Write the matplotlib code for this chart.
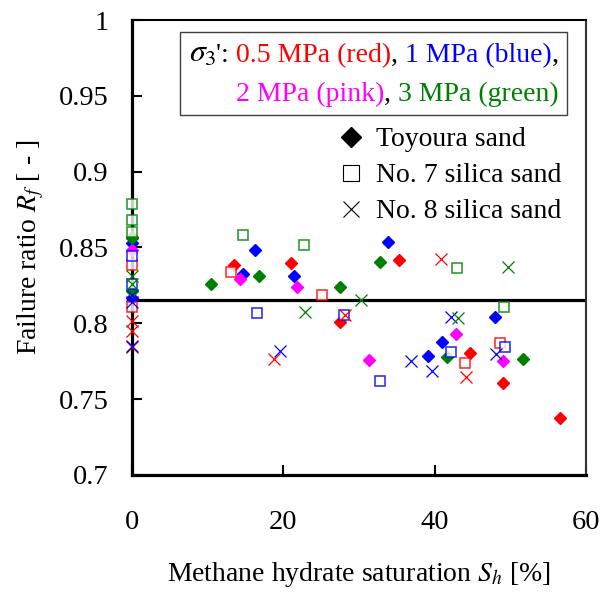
import matplotlib
matplotlib.use('Agg')
import matplotlib.pyplot as plt
from matplotlib.lines import Line2D
from matplotlib.ticker import FuncFormatter
from matplotlib.offsetbox import TextArea, HPacker, VPacker, AnchoredOffsetbox

plt.rcParams['font.family'] = ['Liberation Serif', 'DejaVu Serif']
plt.rcParams['mathtext.fontset'] = 'stix'

# ---- data: (Sh [%], Rf [-]) ----
# Toyoura sand (filled diamonds)
toy_red_x = [0, 13.5, 21.0, 27.5, 35.3, 44.6, 49.0, 56.5]
toy_red_y = [0.857, 0.8385, 0.8396, 0.8005, 0.8418, 0.7803, 0.7605, 0.7374]
toy_blue_x = [0, 0, 14.7, 16.2, 21.4, 33.8, 39.1, 41.0, 48.0]
toy_blue_y = [0.853, 0.8165, 0.8326, 0.848, 0.8312, 0.8539, 0.7785, 0.7873, 0.804]
toy_pink_x = [0, 14.3, 21.8, 31.3, 42.8, 49.0]
toy_pink_y = [0.848, 0.829, 0.8238, 0.7759, 0.7928, 0.7754]
toy_green_x = [0, 0, 10.4, 16.8, 27.5, 32.8, 41.6, 51.6]
toy_green_y = [0.856, 0.821, 0.826, 0.831, 0.8236, 0.8407, 0.778, 0.7765]

# No. 7 silica sand (open squares)
s7_red_x = [0, 0, 13.1, 25.1, 44.0, 48.6]
s7_red_y = [0.8385, 0.811, 0.834, 0.8183, 0.7737, 0.7869]
s7_blue_x = [0, 0, 16.5, 28.0, 32.8, 42.1, 49.3]
s7_blue_y = [0.8444, 0.8258, 0.8067, 0.8055, 0.7616, 0.7807, 0.7846]
s7_green_x = [0, 0, 0, 14.7, 22.7, 43.0, 49.2]
s7_green_y = [0.8785, 0.868, 0.860, 0.858, 0.8517, 0.8367, 0.8106]

# No. 8 silica sand (crosses)
s8_red_x = [0, 0, 0, 18.8, 28.1, 40.8, 44.1]
s8_red_y = [0.8016, 0.795, 0.784, 0.7765, 0.8055, 0.8422, 0.7645]
s8_blue_x = [0, 0, 0, 19.5, 36.9, 39.7, 42.2, 48.1]
s8_blue_y = [0.8187, 0.814, 0.7847, 0.782, 0.7752, 0.7688, 0.804, 0.7796]
s8_green_x = [0, 0, 22.9, 30.3, 43.1, 49.7]
s8_green_y = [0.831, 0.826, 0.8077, 0.8154, 0.8034, 0.837]

mean_rf = 0.8155

RED, BLUE, PINK, GREEN = '#FF0000', '#0000FF', '#FF00FF', '#008000'

fig = plt.figure(figsize=(6.03, 5.92), dpi=100)
ax = fig.add_axes([0.219, 0.198, 0.753, 0.768])

ax.axhline(mean_rf, color='black', lw=2.3, zorder=1.5)

# diamonds
for xs, ys, c in [(toy_red_x, toy_red_y, RED), (toy_blue_x, toy_blue_y, BLUE),
                  (toy_pink_x, toy_pink_y, PINK), (toy_green_x, toy_green_y, GREEN)]:
    ax.plot(xs, ys, ls='none', marker='D', ms=6.4, color=c, mec=c, clip_on=False, zorder=3)
# squares
for xs, ys, c in [(s7_red_x, s7_red_y, RED), (s7_blue_x, s7_blue_y, BLUE),
                  (s7_green_x, s7_green_y, GREEN)]:
    ax.plot(xs, ys, ls='none', marker='s', ms=7.8, mfc='white', mec=c, mew=1.2,
            alpha=0.8, clip_on=False, zorder=4)
# crosses
for xs, ys, c in [(s8_red_x, s8_red_y, RED), (s8_blue_x, s8_blue_y, BLUE),
                  (s8_green_x, s8_green_y, GREEN)]:
    ax.plot(xs, ys, ls='none', marker='x', ms=9.2, color=c, mew=0.9,
            clip_on=False, zorder=5)

ax.set_xlim(0, 60)
ax.set_ylim(0.7, 1.0)
ax.set_xticks([0, 20, 40, 60])
ax.set_yticks([0.7, 0.75, 0.8, 0.85, 0.9, 0.95, 1.0])
ax.yaxis.set_major_formatter(FuncFormatter(lambda v, p: f'{v:g}'))
ax.tick_params(direction='in', length=7, width=1.5, labelsize=20.5)
ax.tick_params(axis='y', pad=17)
ax.tick_params(axis='x', pad=25)
ax.spines['left'].set_linewidth(2.3)
ax.spines['bottom'].set_linewidth(2.3)
ax.spines['top'].set_linewidth(1.5)
ax.spines['right'].set_linewidth(1.5)
ax.spines['right'].set_color('#333333')

ax.set_xlabel(r'Methane hydrate saturation $S_h$ [%]', fontsize=20, labelpad=18)
ax.set_ylabel(r'Failure ratio $R_f$ [ - ]', fontsize=20, labelpad=9)

# confining pressure colour key
fs = 20
def piece(s, c, size=fs):
    return TextArea(s, textprops=dict(color=c, fontsize=size))
line1 = HPacker(children=[piece(r"$\sigma_3$", 'black', 23), piece("': ", 'black'),
                          piece('0.5 MPa (red)', RED),
                          piece(', ', 'black'), piece('1 MPa (blue)', BLUE),
                          piece(',', 'black')], align='baseline', pad=0, sep=0)
line2 = HPacker(children=[piece('2 MPa (pink)', PINK), piece(', ', 'black'),
                          piece('3 MPa (green)', GREEN)], align='baseline', pad=0, sep=0)
key = VPacker(children=[line1, line2], align='right', pad=0, sep=9)
box = AnchoredOffsetbox(loc='upper right', child=key, pad=0.3, borderpad=0,
                        frameon=True, bbox_to_anchor=(0.958, 0.974),
                        bbox_transform=ax.transAxes, prop=dict(size=fs))
box.patch.set_edgecolor('#404040')
box.patch.set_linewidth(1.0)
box.patch.set_boxstyle('square', pad=0)
ax.add_artist(box)

handles = [Line2D([], [], ls='none', marker='D', ms=10, color='black'),
           Line2D([], [], ls='none', marker='s', ms=11, mfc='white', mec='black', mew=0.8),
           Line2D([], [], ls='none', marker='x', ms=11, color='black', mew=0.8)]
labels = ['Toyoura sand', 'No. 7 silica sand', 'No. 8 silica sand']
ax.legend(handles, labels, loc='upper right', bbox_to_anchor=(0.945, 0.765),
          frameon=False, fontsize=20, handlelength=1.0, handletextpad=0.4,
          labelspacing=0.38, borderaxespad=0, borderpad=0)

fig.savefig('out.png', dpi=100)
